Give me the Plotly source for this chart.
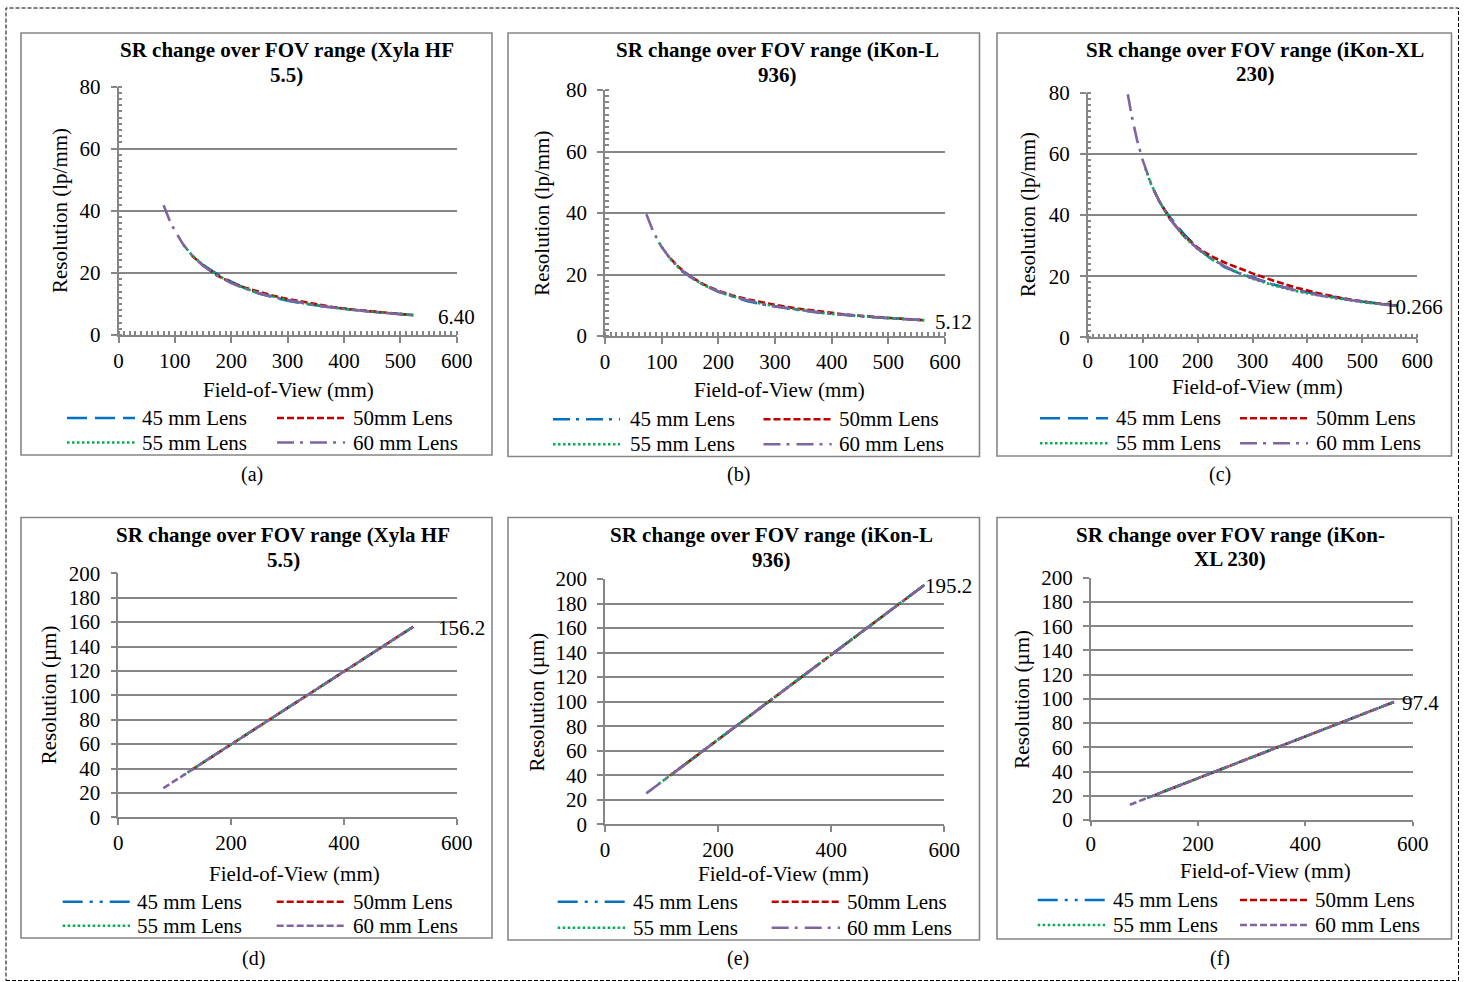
import plotly.graph_objects as go

W, H = 1465, 982

# ---------------- data ----------------
lens_names = ["45 mm Lens", "50mm Lens", "55 mm Lens", "60 mm Lens"]

# (a) Xyla HF 5.5 - resolution (lp/mm)
fov45_a = [150, 175, 200, 225, 250, 275, 300, 340, 380, 420, 460, 500, 523]
res45_a = [22.6, 19.6, 17.2, 15.0, 13.3, 12.1, 11.0, 9.8, 8.8, 8.0, 7.3, 6.7, 6.40]
fov50_a = [130, 150, 175, 200, 225, 250, 275, 300, 340, 380, 420, 460, 500, 523]
res50_a = [25.6, 22.4, 19.2, 16.9, 15.2, 13.8, 12.6, 11.6, 10.2, 9.0, 8.1, 7.4, 6.8, 6.40]
fov55_a = [115, 130, 150, 175, 200, 225, 250, 275, 300, 340, 380, 420, 460, 500, 523]
res55_a = [29.0, 25.8, 22.5, 19.3, 16.8, 15.0, 13.5, 12.3, 11.2, 9.9, 8.8, 8.0, 7.3, 6.7, 6.40]
fov60_a = [80, 90, 100, 115, 130, 150, 175, 200, 225, 250, 275, 300, 340, 380, 420, 460, 500, 523]
res60_a = [41.8, 37.2, 33.5, 29.1, 25.7, 22.3, 19.1, 16.7, 14.9, 13.4, 12.2, 11.2, 9.8, 8.8, 8.0, 7.3, 6.7, 6.40]

# (b) iKon-L 936 - resolution (lp/mm)
fov45_b = [135, 150, 175, 200, 225, 250, 275, 300, 340, 380, 420, 460, 500, 540, 565]
res45_b = [21.2, 19.5, 16.6, 14.4, 12.8, 11.4, 10.4, 9.6, 8.5, 7.6, 6.9, 6.3, 5.8, 5.36, 5.12]
fov50_b = [115, 130, 150, 175, 200, 225, 250, 275, 300, 340, 380, 420, 460, 500, 540, 565]
res50_b = [25.3, 22.4, 19.4, 16.7, 14.7, 13.2, 12.0, 11.0, 10.1, 8.9, 7.9, 7.1, 6.4, 5.9, 5.4, 5.12]
fov55_b = [95, 115, 130, 150, 175, 200, 225, 250, 275, 300, 340, 380, 420, 460, 500, 540, 565]
res55_b = [30.4, 25.1, 22.2, 19.2, 16.5, 14.4, 12.9, 11.6, 10.5, 9.7, 8.5, 7.5, 6.9, 6.3, 5.8, 5.36, 5.12]
fov60_b = [73, 85, 100, 115, 130, 150, 175, 200, 225, 250, 275, 300, 340, 380, 420, 460, 500, 540, 565]
res60_b = [39.6, 34.0, 28.9, 25.2, 22.3, 19.3, 16.5, 14.5, 12.9, 11.6, 10.5, 9.6, 8.5, 7.6, 6.9, 6.3, 5.8, 5.36, 5.12]

# (c) iKon-XL 230 - resolution (lp/mm)
fov45_c = [135, 150, 175, 200, 225, 250, 275, 300, 340, 380, 420, 460, 500, 540, 565]
res45_c = [43.0, 39.2, 33.8, 29.2, 25.6, 22.9, 21.0, 19.5, 17.2, 15.4, 14.0, 12.8, 11.7, 10.8, 10.266]
fov50_c = [120, 130, 150, 175, 200, 225, 250, 275, 300, 340, 380, 420, 460, 500, 540, 565]
res50_c = [48.2, 44.6, 38.7, 33.2, 29.3, 26.5, 24.4, 22.6, 20.9, 18.4, 16.2, 14.4, 12.9, 11.7, 10.8, 10.266]
fov55_c = [105, 115, 130, 150, 175, 200, 225, 250, 275, 300, 340, 380, 420, 460, 500, 540, 565]
res55_c = [55.2, 50.3, 44.5, 38.6, 33.0, 28.9, 25.7, 23.1, 21.0, 19.2, 16.9, 15.1, 13.7, 12.5, 11.5, 10.7, 10.266]
fov60_c = [73, 80, 90, 100, 115, 130, 150, 175, 200, 225, 250, 275, 300, 340, 380, 420, 460, 500, 540, 565]
res60_c = [79.5, 72.5, 64.4, 58.0, 50.4, 44.6, 38.7, 33.1, 29.0, 25.8, 23.2, 21.1, 19.3, 17.1, 15.3, 13.8, 12.6, 11.6, 10.7, 10.266]

# (d) Xyla HF 5.5 - resolution (um)
fov45_d = [150, 200, 300, 400, 523]
res45_d = [44.9, 59.8, 89.6, 119.5, 156.2]
fov50_d = [130, 200, 300, 400, 523]
res50_d = [38.8, 59.8, 89.7, 119.6, 156.2]
fov55_d = [115, 200, 300, 400, 523]
res55_d = [34.4, 59.7, 89.6, 119.5, 156.2]
fov60_d = [80, 150, 200, 300, 400, 523]
res60_d = [23.9, 44.8, 59.7, 89.6, 119.5, 156.2]

# (e) iKon-L 936 - resolution (um)
fov45_e = [135, 200, 300, 400, 500, 565]
res45_e = [46.6, 69.1, 103.6, 138.2, 172.8, 195.2]
fov50_e = [115, 200, 300, 400, 500, 565]
res50_e = [39.7, 69.2, 103.8, 138.3, 172.9, 195.2]
fov55_e = [95, 200, 300, 400, 500, 565]
res55_e = [32.8, 69.1, 103.6, 138.2, 172.8, 195.2]
fov60_e = [73, 150, 200, 300, 400, 500, 565]
res60_e = [25.2, 51.8, 69.1, 103.7, 138.2, 172.8, 195.2]

# (f) iKon-XL 230 - resolution (um)
fov45_f = [135, 200, 300, 400, 500, 565]
res45_f = [23.3, 34.5, 51.7, 69.0, 86.2, 97.4]
fov50_f = [120, 200, 300, 400, 500, 565]
res50_f = [20.7, 34.5, 51.8, 69.0, 86.3, 97.4]
fov55_f = [105, 200, 300, 400, 500, 565]
res55_f = [18.1, 34.5, 51.7, 69.0, 86.2, 97.4]
fov60_f = [73, 150, 200, 300, 400, 500, 565]
res60_f = [12.6, 25.9, 34.5, 51.7, 69.0, 86.2, 97.4]

end_labels = ["6.40", "5.12", "10.266", "156.2", "195.2", "97.4"]
panel_tags = ["(a)", "(b)", "(c)", "(d)", "(e)", "(f)"]
titles = [
    ("SR change over FOV range (Xyla HF", "5.5)"),
    ("SR change over FOV range (iKon-L", "936)"),
    ("SR change over FOV range (iKon-XL", "230)"),
    ("SR change over FOV range (Xyla HF", "5.5)"),
    ("SR change over FOV range (iKon-L", "936)"),
    ("SR change over FOV range (iKon-", "XL 230)"),
]

# ---------------- styling ----------------
FONT = "Liberation Serif"
GRAY = "#868686"
COLORS = ["#0070C0", "#C00000", "#00B050", "#8064A2"]
LONGDASH = "20px,8px"
DASH = "7px,3px"
DOT = "2.5px,2.5px"
LDDOT = "17px,6px,3px,7px"
LDDDOT = "20px,7px,3px,7px,3px,7px"
dashes = [
    [LONGDASH, DASH, DOT, LDDOT],
    [LDDOT, DASH, DOT, LDDOT],
    [LONGDASH, DASH, DOT, LDDOT],
    [LDDDOT, DASH, DOT, DASH],
    [LDDDOT, DASH, DOT, LDDOT],
    [LDDDOT, DASH, DOT, DASH],
]

data = [
    [(fov45_a, res45_a), (fov50_a, res50_a), (fov55_a, res55_a), (fov60_a, res60_a)],
    [(fov45_b, res45_b), (fov50_b, res50_b), (fov55_b, res55_b), (fov60_b, res60_b)],
    [(fov45_c, res45_c), (fov50_c, res50_c), (fov55_c, res55_c), (fov60_c, res60_c)],
    [(fov45_d, res45_d), (fov50_d, res50_d), (fov55_d, res55_d), (fov60_d, res60_d)],
    [(fov45_e, res45_e), (fov50_e, res50_e), (fov55_e, res55_e), (fov60_e, res60_e)],
    [(fov45_f, res45_f), (fov50_f, res50_f), (fov55_f, res55_f), (fov60_f, res60_f)],
]

# plot-area pixel boxes: x0, x1, ytop, ybottom
areas = [
    (118.5, 456.7, 86.5, 335.0),
    (605.0, 945.0, 90.0, 336.0),
    (1087.7, 1417.3, 92.7, 337.3),
    (118.3, 456.7, 573.3, 817.3),
    (605.0, 944.3, 579.0, 824.3),
    (1090.7, 1412.7, 577.7, 820.0),
]
x_ticklen = [6, 6, 4, 6, 6, 4]
boxes = [
    (21, 492, 33, 455),
    (508, 979.5, 33, 456.5),
    (997, 1451.5, 33, 456),
    (21, 492, 517.5, 938),
    (508, 979.5, 517.5, 940),
    (997, 1451.5, 517.5, 939),
]
title_pos = [(286.7, 50, 75), (777.5, 50, 75), (1255, 50, 74),
             (283, 535, 560), (771.7, 535, 560), (1230, 535, 559)]
xtitle_pos = [(288.3, 390), (779.7, 390), (1257.8, 387), (294.5, 874), (783.8, 874), (1265, 871)]
ytitle_pos = [(60, 211), (541.7, 213), (1028, 215), (49.3, 695), (536.7, 701.7), (1021.7, 699)]
end_shift = [(23, -2), (8, -2), (-15, -1), (22.7, -1.3), (-1.5, -1), (6, -1)]
tag_pos = [(252, 475), (738, 475), (1220, 475), (253, 958), (738, 958), (1220, 958)]
# legend: row y's, col1 symbol x0,x1,text x, col2 symbol x0,x1,text x
legend_pos = [
    ((418, 442.5), (67, 135, 141.7), (277, 345, 352.8)),
    ((419.3, 444.3), (553, 620, 629.5), (763.5, 831.7, 838.8)),
    ((418.3, 443.3), (1040, 1108, 1115.7), (1240, 1308, 1316)),
    ((901.7, 925.7), (62.7, 130, 137.3), (276.7, 345, 352.7)),
    ((901.7, 927.7), (557.7, 625, 632.7), (771.7, 840, 846.7)),
    ((900, 925), (1037.7, 1105, 1113.3), (1240, 1308.3, 1315)),
]


def px(x):
    return x / W


def py(y):
    return 1 - y / H


fig = go.Figure()
layout = dict(
    width=W, height=H, autosize=False,
    margin=dict(l=0, r=0, t=0, b=0, pad=0, autoexpand=False),
    paper_bgcolor="white", plot_bgcolor="white",
    showlegend=False,
    font=dict(family=FONT, size=21, color="black"),
)
annotations = []
shapes = []

for i in range(6):
    n = i + 1
    xa = "x" if n == 1 else f"x{n}"
    ya = "y" if n == 1 else f"y{n}"
    x0, x1, yt, yb = areas[i]
    top = i < 3
    for k in range(4):
        fx, ry = data[i][k]
        fig.add_trace(go.Scatter(
            x=fx, y=ry, mode="lines", name=lens_names[k],
            line=dict(color=COLORS[k], width=2.6, dash=dashes[i][k]),
            xaxis=xa, yaxis=ya, hoverinfo="x+y+name",
        ))
    xaxis = dict(
        domain=[px(x0), px(x1)], anchor=ya, range=[0, 600],
        dtick=100 if top else 200, tick0=0, automargin=False,
        ticks="outside", ticklen=x_ticklen[i], tickwidth=1.5, tickcolor=GRAY,
        showline=True, linecolor=GRAY, linewidth=1.5,
        showgrid=False, zeroline=False, fixedrange=True,
        tickfont=dict(family=FONT, size=21, color="black"),
        ticklabelstandoff=0,
    )
    yaxis = dict(
        domain=[py(yb), py(yt)], anchor=xa, range=[0, 80 if top else 200],
        dtick=20, tick0=0, automargin=False,
        ticks="outside", ticklen=6, tickwidth=1.5, tickcolor=GRAY,
        showline=True, linecolor=GRAY, linewidth=1.5,
        showgrid=True, gridcolor=GRAY, gridwidth=1.5,
        zeroline=False, fixedrange=True,
        tickfont=dict(family=FONT, size=21, color="black"),
        ticklabelstandoff=6,
    )
    if top:
        xaxis["minor"] = dict(dtick=10, ticks="inside", ticklen=4, tickwidth=1.5,
                              tickcolor=GRAY, showgrid=False)
        yaxis["minor"] = dict(dtick=2, ticks="inside", ticklen=4, tickwidth=1.5,
                              tickcolor=GRAY, showgrid=False)
    layout["xaxis" if n == 1 else f"xaxis{n}"] = xaxis
    layout["yaxis" if n == 1 else f"yaxis{n}"] = yaxis

    # panel box
    bx0, bx1, by0, by1 = boxes[i]
    shapes.append(dict(type="rect", xref="paper", yref="paper",
                       x0=px(bx0), x1=px(bx1), y0=py(by1), y1=py(by0),
                       line=dict(color=GRAY, width=1.6), layer="above"))
    # title
    tx, ty1, ty2 = title_pos[i]
    for txt, tyy in ((titles[i][0], ty1), (titles[i][1], ty2)):
        annotations.append(dict(text=f"<b>{txt}</b>", x=px(tx), y=py(tyy),
                                xref="paper", yref="paper", showarrow=False,
                                xanchor="center", yanchor="middle",
                                font=dict(family=FONT, size=21, color="black")))
    # axis titles
    annotations.append(dict(text="Field-of-View (mm)", x=px(xtitle_pos[i][0]), y=py(xtitle_pos[i][1]),
                            xref="paper", yref="paper", showarrow=False,
                            xanchor="center", yanchor="middle",
                            font=dict(family=FONT, size=21, color="black")))
    annotations.append(dict(text="Resolution (lp/mm)" if top else "Resolution (µm)",
                            x=px(ytitle_pos[i][0]), y=py(ytitle_pos[i][1]),
                            xref="paper", yref="paper", showarrow=False, textangle=-90,
                            xanchor="center", yanchor="middle",
                            font=dict(family=FONT, size=21, color="black")))
    # end value label at last point of the 60 mm series
    lx = data[i][3][0][-1]
    ly = data[i][3][1][-1]
    annotations.append(dict(text=end_labels[i], x=lx, y=ly, xref=xa, yref=ya,
                            showarrow=False, xanchor="left", yanchor="middle",
                            xshift=end_shift[i][0], yshift=end_shift[i][1],
                            font=dict(family=FONT, size=21, color="black")))
    # panel tag
    annotations.append(dict(text=panel_tags[i], x=px(tag_pos[i][0]), y=py(tag_pos[i][1]),
                            xref="paper", yref="paper", showarrow=False,
                            xanchor="center", yanchor="middle",
                            font=dict(family=FONT, size=20, color="black")))
    # legend
    rows, c1, c2 = legend_pos[i]
    order = [(0, c1, rows[0]), (1, c2, rows[0]), (2, c1, rows[1]), (3, c2, rows[1])]
    for k, col, ry in order:
        shapes.append(dict(type="line", xref="paper", yref="paper",
                           x0=px(col[0]), x1=px(col[1]), y0=py(ry), y1=py(ry),
                           line=dict(color=COLORS[k], width=2.6, dash=dashes[i][k])))
        annotations.append(dict(text=lens_names[k], x=px(col[2] - 2), y=py(ry),
                                xref="paper", yref="paper", showarrow=False,
                                xanchor="left", yanchor="middle",
                                font=dict(family=FONT, size=21, color="black")))

# outer dashed frame
shapes.append(dict(type="rect", xref="paper", yref="paper",
                   x0=px(6), x1=px(1458.5), y0=py(980.5), y1=py(8),
                   line=dict(color="black", width=1, dash="4px,2px")))

layout["annotations"] = annotations
layout["shapes"] = shapes
fig.update_layout(**layout)

# remove the default page margin synchronously (before and after plotting)
fix_js = ("}); document.body.style.margin='0'; "
          "document.documentElement.style.overflow='hidden'; "
          "Promise.resolve().then(function(){ document.body.style.margin='0';")
fig.write_html("out.html", config={"displayModeBar": False}, post_script=fix_js)
